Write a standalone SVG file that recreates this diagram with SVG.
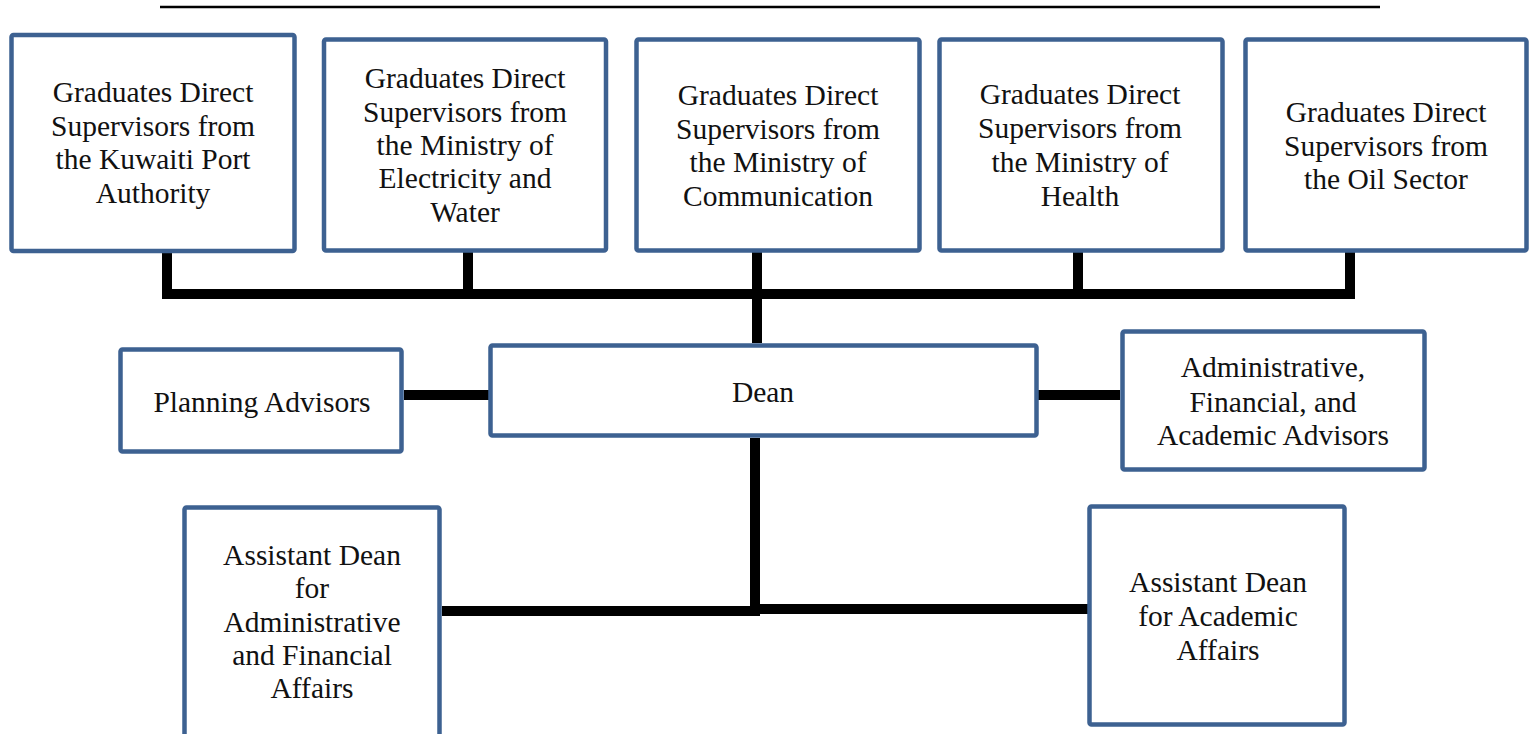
<svg xmlns="http://www.w3.org/2000/svg" width="1529" height="734" viewBox="0 0 1529 734">
<style>
.box{fill:#fff;stroke:#3d6191;stroke-width:4.5}
text{font-family:'Liberation Serif','Times New Roman',Times,'DejaVu Serif',serif;font-size:29.5px;fill:#111;text-anchor:middle}
.c{stroke:#000;stroke-width:10;fill:none}
</style>
<rect width="1529" height="734" fill="#fff"/>
<line x1="160" y1="7" x2="1380" y2="7" stroke="#000" stroke-width="2.5"/>
<g id="connectors">
<line class="c" x1="167" y1="252" x2="167" y2="294"/>
<line class="c" x1="468" y1="252" x2="468" y2="294"/>
<line class="c" x1="1078" y1="252" x2="1078" y2="294"/>
<line class="c" x1="1350" y1="252" x2="1350" y2="294"/>
<line class="c" x1="162" y1="294" x2="1355" y2="294"/>
<line class="c" x1="757" y1="252" x2="757" y2="343"/>
<line class="c" x1="404" y1="395" x2="490" y2="395"/>
<line class="c" x1="1038" y1="395" x2="1120" y2="395"/>
<line class="c" x1="755" y1="438" x2="755" y2="611"/>
<line class="c" x1="442" y1="611" x2="760" y2="611"/>
<line class="c" x1="750" y1="609" x2="1088" y2="609"/>
</g>
<g id="n1">
<rect class="box" x="11.5" y="35" width="283" height="216" rx="2"/>
<text x="153" y="102">Graduates Direct</text>
<text x="153" y="136">Supervisors from</text>
<text x="153" y="169">the Kuwaiti Port</text>
<text x="153" y="203">Authority</text>
</g>
<g id="n2">
<rect class="box" x="324" y="39.5" width="282" height="211" rx="2"/>
<text x="465" y="88">Graduates Direct</text>
<text x="465" y="122">Supervisors from</text>
<text x="465" y="155">the Ministry of</text>
<text x="465" y="188">Electricity and</text>
<text x="465" y="222">Water</text>
</g>
<g id="n3">
<rect class="box" x="636.5" y="39.5" width="283" height="211" rx="2"/>
<text x="778" y="105">Graduates Direct</text>
<text x="778" y="139">Supervisors from</text>
<text x="778" y="172">the Ministry of</text>
<text x="778" y="206">Communication</text>
</g>
<g id="n4">
<rect class="box" x="939.5" y="39.5" width="283" height="211" rx="2"/>
<text x="1080" y="104">Graduates Direct</text>
<text x="1080" y="138">Supervisors from</text>
<text x="1080" y="172">the Ministry of</text>
<text x="1080" y="206">Health</text>
</g>
<g id="n5">
<rect class="box" x="1245.5" y="39.5" width="281" height="211" rx="2"/>
<text x="1386" y="122">Graduates Direct</text>
<text x="1386" y="156">Supervisors from</text>
<text x="1386" y="189">the Oil Sector</text>
</g>
<g id="planning">
<rect class="box" x="120.5" y="349.5" width="281" height="102" rx="2"/>
<text x="262" y="412">Planning Advisors</text>
</g>
<g id="dean">
<rect class="box" x="490.5" y="345.5" width="546" height="90" rx="2"/>
<text x="763" y="402">Dean</text>
</g>
<g id="admin">
<rect class="box" x="1122.5" y="331.5" width="302" height="138" rx="2"/>
<text x="1273" y="377">Administrative,</text>
<text x="1273" y="412">Financial, and</text>
<text x="1273" y="445">Academic Advisors</text>
</g>
<g id="asst-admin">
<rect class="box" x="184.5" y="507.5" width="255" height="240" rx="2"/>
<text x="312" y="565">Assistant Dean</text>
<text x="312" y="598">for</text>
<text x="312" y="632">Administrative</text>
<text x="312" y="665">and Financial</text>
<text x="312" y="698">Affairs</text>
</g>
<g id="asst-academic">
<rect class="box" x="1089.5" y="506.5" width="255" height="218" rx="2"/>
<text x="1218" y="592">Assistant Dean</text>
<text x="1218" y="626">for Academic</text>
<text x="1218" y="660">Affairs</text>
</g>
</svg>
